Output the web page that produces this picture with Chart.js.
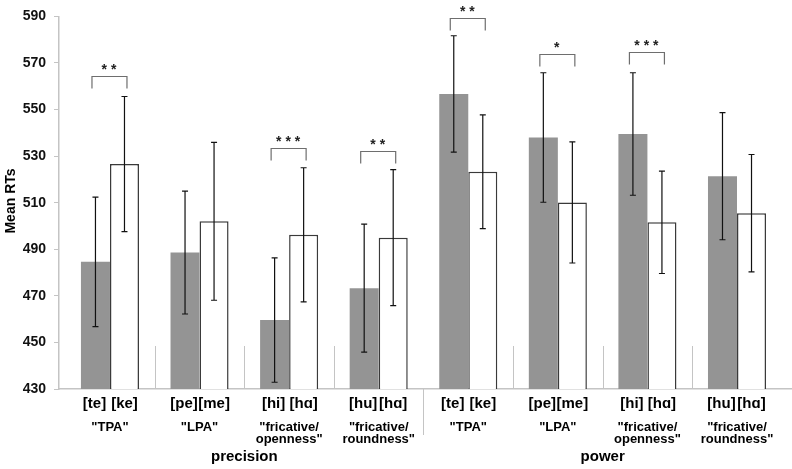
<!DOCTYPE html>
<html>
<head>
<meta charset="utf-8">
<script src="https://cdn.jsdelivr.net/npm/chart.js@4.4.1/dist/chart.umd.min.js"></script>
<style>
  html, body { margin: 0; padding: 0; background: #fff; }
  #wrap { width: 792px; height: 469px; }
</style>
</head>
<body>
<div id="wrap"><canvas id="rtChart" width="792" height="469"></canvas></div>
<script>
// Mean RTs per contrast pair, precision vs power task

const conditions = ['precision', 'power'];
const groupLabels = [
    ['"TPA"'], ['"LPA"'], ['"fricative/', 'openness"'], ['"fricative/', 'roundness"'],
    ['"TPA"'], ['"LPA"'], ['"fricative/', 'openness"'], ['"fricative/', 'roundness"']
];
const firstSounds = ['[te]', '[pe]', '[hi]', '[hu]', '[te]', '[pe]', '[hi]', '[hu]'];
const secondSounds = ['[ke]', '[me]', '[hɑ]', '[hɑ]', '[ke]', '[me]', '[hɑ]', '[hɑ]'];

const firstMeans = [484.6, 488.6, 459.6, 473.3, 556.7, 538.0, 539.5, 521.4];
const secondMeans = [526.6, 502.0, 496.2, 495.0, 523.3, 510.1, 501.6, 505.5];
const firstErr = [27.8, 26.4, 26.7, 27.5, 25.0, 27.8, 26.3, 27.3];
const secondErr = [29.0, 33.9, 28.8, 29.2, 24.4, 26.0, 22.0, 25.2];

const sigStars = ['**', '', '***', '**', '**', '*', '***', ''];
const sigLevel = [564.3, null, 533.4, 532.1, 589.3, 573.7, 574.7, null];

const yTicks = [430, 450, 470, 490, 510, 530, 550, 570, 590];

const FONT = '"Liberation Sans", Arial, Helvetica, sans-serif';

const extras = {
    id: 'extras',
    afterDatasetsDraw(chart) {
        const ctx = chart.ctx;
        const y = chart.scales.y;
        const x = chart.scales.x;
        const area = chart.chartArea;
        const m0 = chart.getDatasetMeta(0).data;
        const m1 = chart.getDatasetMeta(1).data;
        ctx.save();

        // short separators between groups
        ctx.strokeStyle = '#c4c4c4';
        ctx.lineWidth = 1;
        for (let i = 0; i < firstMeans.length - 1; i++) {
            const sx = Math.round(x.getPixelForValue(i + 0.5)) + 0.5;
            ctx.beginPath();
            if (i === 3) {
                ctx.moveTo(sx, area.bottom);
                ctx.lineTo(sx, area.bottom + 46);
            } else {
                ctx.moveTo(sx, area.bottom - 43);
                ctx.lineTo(sx, area.bottom);
            }
            ctx.stroke();
        }

        // error bars
        ctx.strokeStyle = '#111';
        ctx.lineWidth = 1.2;
        const errBar = (bx, mean, err) => {
            const top = y.getPixelForValue(mean + err);
            const bot = y.getPixelForValue(mean - err);
            ctx.beginPath();
            ctx.moveTo(bx, top); ctx.lineTo(bx, bot);
            ctx.moveTo(bx - 3, top); ctx.lineTo(bx + 3, top);
            ctx.moveTo(bx - 3, bot); ctx.lineTo(bx + 3, bot);
            ctx.stroke();
        };
        firstMeans.forEach((v, i) => errBar(m0[i].x, v, firstErr[i]));
        secondMeans.forEach((v, i) => errBar(m1[i].x, v, secondErr[i]));

        // significance brackets
        ctx.strokeStyle = '#6e6e6e';
        ctx.lineWidth = 1.2;
        ctx.fillStyle = '#222';
        ctx.font = 'bold 14px ' + FONT;
        ctx.textAlign = 'center';
        ctx.textBaseline = 'middle';
        sigStars.forEach((s, i) => {
            if (!s) return;
            const cx = x.getPixelForValue(i);
            const top = Math.round(y.getPixelForValue(sigLevel[i])) + 0.5;
            ctx.beginPath();
            ctx.moveTo(cx - 18, top + 12);
            ctx.lineTo(cx - 18, top);
            ctx.lineTo(cx + 17, top);
            ctx.lineTo(cx + 17, top + 12);
            ctx.stroke();
            ctx.fillText(s.split('').join(' '), cx - 1, top - 6);
        });

        // category labels
        ctx.fillStyle = '#000';
        ctx.font = 'bold 15px ' + FONT;
        firstSounds.forEach((t, i) => ctx.fillText(t, m0[i].x - 1, area.bottom + 15));
        secondSounds.forEach((t, i) => ctx.fillText(t, m1[i].x, area.bottom + 15));

        ctx.font = 'bold 13px ' + FONT;
        groupLabels.forEach((lines, i) => {
            const cx = x.getPixelForValue(i);
            lines.forEach((ln, k) => ctx.fillText(ln, cx, area.bottom + 38 + k * 12));
        });

        ctx.font = 'bold 15px ' + FONT;
        conditions.forEach((c, k) => {
            const cx = (x.getPixelForValue(k * 4) + x.getPixelForValue(k * 4 + 3)) / 2;
            ctx.fillText(c, cx, area.bottom + 68);
        });

        // y axis title
        ctx.font = 'bold 14px ' + FONT;
        ctx.translate(11, 201);
        ctx.rotate(-Math.PI / 2);
        ctx.fillText('Mean RTs', 0, 0);
        ctx.restore();
    }
};

const ctx = document.getElementById('rtChart').getContext('2d');
new Chart(ctx, {
    type: 'bar',
    data: {
        datasets: [{
            label: 'first',
            data: firstMeans.map((v, i) => ({ x: i, y: v })),
            backgroundColor: '#949494',
            borderWidth: 0
        }, {
            label: 'second',
            data: secondMeans.map((v, i) => ({ x: i, y: v })),
            backgroundColor: '#ffffff',
            borderColor: '#3a3a3a',
            borderWidth: 1.5
        }]
    },
    options: {
        responsive: false,
        animation: false,
        events: [],
        layout: { padding: { top: 13, right: 0, bottom: 0, left: 0 } },
        datasets: {
            bar: { categoryPercentage: 0.648, barPercentage: 1 }
        },
        plugins: {
            legend: { display: false },
            tooltip: { enabled: false }
        },
        scales: {
            x: {
                type: 'linear',
                offset: false,
                min: -0.569,
                max: 7.614,
                // one tick per group so the bar width follows the group spacing
                afterBuildTicks(scale) { scale.ticks = firstMeans.map((_, i) => ({ value: i })); },
                ticks: { display: false },
                grid: { display: false },
                border: { color: '#c4c4c4', width: 1.5 },
                afterFit(scale) { scale.height = 80; }
            },
            y: {
                min: 430,
                max: 590,
                afterBuildTicks(scale) { scale.ticks = yTicks.map(v => ({ value: v })); },
                ticks: {
                    color: '#111',
                    padding: 8,
                    font: { family: FONT, size: 14, weight: 'bold' }
                },
                grid: { drawOnChartArea: false, drawTicks: true, tickLength: 5, color: '#c4c4c4' },
                border: { color: '#c4c4c4', width: 1.5 },
                afterFit(scale) { scale.width = 59; }
            }
        }
    },
    plugins: [extras]
});
</script>
</body>
</html>
